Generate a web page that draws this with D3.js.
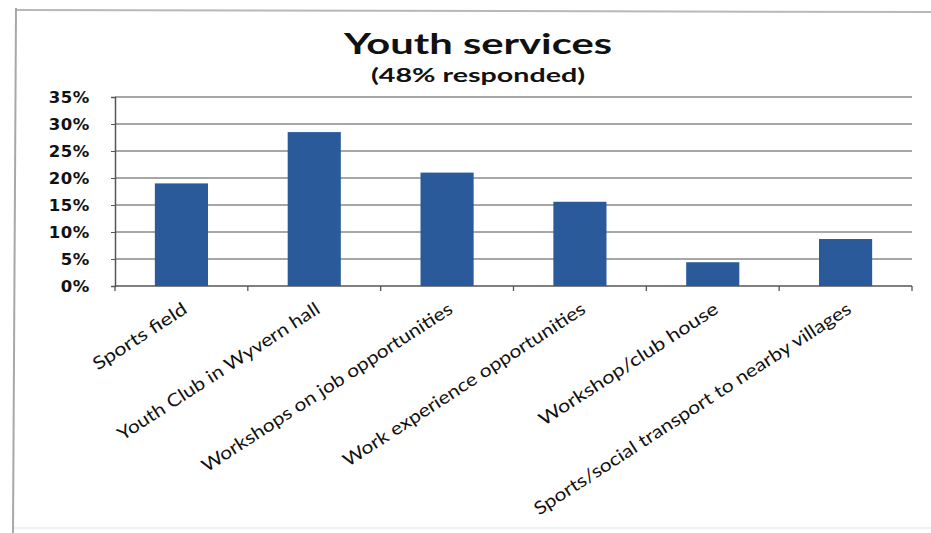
<!DOCTYPE html>
<html>
<head>
<meta charset="utf-8">
<script src="https://cdn.jsdelivr.net/npm/d3@7/dist/d3.min.js"></script>
<style>
  html, body { margin: 0; padding: 0; background: #fff; }
  svg { display: block; }
</style>
</head>
<body>
<svg id="chart" width="931" height="533"></svg>
<script>
const categories = [
  "Sports field",
  "Youth Club in Wyvern hall",
  "Workshops on job opportunities",
  "Work experience opportunities",
  "Workshop/club house",
  "Sports/social transport to nearby villages"
];
const values = [0.19, 0.285, 0.21, 0.156, 0.044, 0.087];
const yTicks = [0, 0.05, 0.10, 0.15, 0.20, 0.25, 0.30, 0.35];
const titleText = "Youth services";
const subtitleText = "(48% responded)";

const svg = d3.select("#chart");

// frame (scanned page border)
svg.append("line").attr("x1", 15).attr("x2", 931).attr("y1", 10).attr("y2", 12)
  .attr("stroke", "#b8b8b8").attr("stroke-width", 2);
svg.append("line").attr("x1", 16).attr("x2", 13).attr("y1", 8).attr("y2", 533)
  .attr("stroke", "#a8a8a8").attr("stroke-width", 2);
svg.append("line").attr("x1", 14).attr("x2", 931).attr("y1", 528).attr("y2", 528)
  .attr("stroke", "#eeeeee").attr("stroke-width", 1.5);

const plot = { left: 115, right: 912, top: 97, bottom: 286 };

const x = d3.scaleBand().domain(categories)
  .range([plot.left, plot.right]).paddingInner(0.6).paddingOuter(0.3);
const y = d3.scaleLinear().domain([0, 0.35]).range([plot.bottom, plot.top]);

// gridlines
svg.append("g").selectAll("line").data(yTicks.filter(d => d > 0)).join("line")
  .attr("x1", plot.left).attr("x2", plot.right)
  .attr("y1", d => y(d)).attr("y2", d => y(d))
  .attr("stroke", "#8a8a8a").attr("stroke-width", 1.3);

// bars
svg.append("g").selectAll("rect").data(values).join("rect")
  .attr("x", (d, i) => x(categories[i]))
  .attr("width", x.bandwidth())
  .attr("y", d => y(d))
  .attr("height", d => y(0) - y(d))
  .attr("fill", "#2a5a9a");

// y axis
const yAxis = d3.axisLeft(y).tickValues(yTicks).tickSize(4).tickFormat(d3.format(".0%"));
const gy = svg.append("g").attr("transform", `translate(${plot.left},0)`).call(yAxis);
gy.select(".domain").attr("stroke", "#555").attr("stroke-width", 1.5);
gy.selectAll(".tick line").attr("stroke", "#555");
gy.selectAll(".tick text")
  .attr("x", -25)
  .attr("font-family", "DejaVu Sans, Verdana, sans-serif")
  .attr("font-weight", "bold")
  .attr("font-size", 16.5)
  .attr("letter-spacing", 0.6)
  .attr("fill", "#111");

// x axis with category-boundary ticks
const gx = svg.append("g").attr("transform", `translate(0,${plot.bottom})`);
gx.append("line").attr("x1", plot.left).attr("x2", plot.right)
  .attr("stroke", "#555").attr("stroke-width", 1.5);
const boundaries = d3.range(categories.length + 1).map(i => plot.left + i * x.step());
gx.selectAll("line.tk").data(boundaries).join("line").attr("class", "tk")
  .attr("x1", d => d).attr("x2", d => d).attr("y1", 0).attr("y2", 5)
  .attr("stroke", "#555").attr("stroke-width", 1.3);

// rotated category labels
const labelLengths = [108, 237, 295, 285, 210, 374];
svg.append("g").selectAll("text").data(categories).join("text")
  .attr("transform", d => `translate(${x(d) + x.bandwidth() / 2 + 7},${plot.bottom + 26}) rotate(-33)`)
  .attr("text-anchor", "end")
  .attr("font-family", "Lato, 'Open Sans', sans-serif")
  .attr("font-size", 18)
  .attr("fill", "#111")
  .attr("textLength", (d, i) => labelLengths[i])
  .attr("lengthAdjust", "spacingAndGlyphs")
  .text(d => d);

// titles
svg.append("text").attr("x", 478).attr("y", 54).attr("text-anchor", "middle")
  .attr("font-family", "Lato, 'Open Sans', sans-serif").attr("font-weight", "bold")
  .attr("font-size", 29).attr("fill", "#111")
  .attr("textLength", 268).attr("lengthAdjust", "spacingAndGlyphs")
  .text(titleText);
svg.append("text").attr("x", 478).attr("y", 82).attr("text-anchor", "middle")
  .attr("font-family", "Lato, 'Open Sans', sans-serif").attr("font-weight", "bold")
  .attr("font-size", 18).attr("fill", "#111")
  .attr("textLength", 214).attr("lengthAdjust", "spacingAndGlyphs")
  .text(subtitleText);
</script>
</body>
</html>
